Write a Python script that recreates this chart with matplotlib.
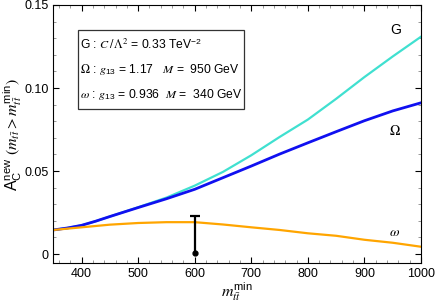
import matplotlib
matplotlib.use("Agg")
import matplotlib.pyplot as plt
from matplotlib.patches import Rectangle
from matplotlib.ticker import MultipleLocator

plt.rcParams['font.family'] = ['Liberation Sans', 'DejaVu Sans']
plt.rcParams['mathtext.fontset'] = 'stix'

# m_tt^min grid (GeV)
m_min = [350, 375, 400, 425, 450, 500, 550, 600, 650, 700, 750, 800, 850, 900, 950, 1000]
# G : C/Lambda^2 = 0.33 TeV^-2
a_G = [0.0145, 0.0157, 0.0173, 0.0198, 0.0226, 0.0282, 0.0340, 0.0412, 0.0495, 0.0595,
       0.0705, 0.0810, 0.0935, 0.1066, 0.1190, 0.1309]
# Omega : g13 = 1.17, M = 950 GeV
a_Omega = [0.0145, 0.0157, 0.0173, 0.0198, 0.0226, 0.0280, 0.0333, 0.0390, 0.0460, 0.0530,
           0.0602, 0.0670, 0.0737, 0.0803, 0.0862, 0.0911]
# omega : g13 = 0.936, M = 340 GeV
a_omega = [0.0145, 0.0153, 0.0161, 0.0169, 0.0177, 0.0187, 0.0192, 0.0192, 0.0178, 0.0161,
           0.0145, 0.0125, 0.0110, 0.0086, 0.0068, 0.0044]

# measurement point with (upper) error bar
meas_x = [600]
meas_y = [0.0008]
meas_err_up = [0.0221]

fig = plt.figure(figsize=(4.36, 3.01), dpi=100)
ax = fig.add_axes([0.1223, 0.1262, 0.8433, 0.8572])

ax.plot(m_min, a_G, color='#40E0D0', lw=1.6)
ax.plot(m_min, a_Omega, color='#1010F0', lw=2.0)
ax.plot(m_min, a_omega, color='#FFA500', lw=1.6)

eb = ax.errorbar(meas_x, meas_y, yerr=[[0], meas_err_up], fmt='o', color='k', ms=3.5,
                 capsize=3.6, elinewidth=1.6, capthick=1.6)
eb[1][0].set_visible(False)

ax.text(955, 0.135, 'G', fontsize=10, ha='center', va='center')
ax.text(954, 0.0743, r'$\Omega$', fontsize=10, ha='center', va='center')
ax.text(954, 0.0134, r'$\omega$', fontsize=10, ha='center', va='center')

# info box
ax.add_patch(Rectangle((393.6, 0.0873), 293.4, 0.0477, fill=False, ec='#333333', lw=0.9))
ax.text(398, 0.1260, r'$\mathregular{G}$ : $C\,/\,\Lambda^2$ = 0.33 TeV$^{\mathregular{-2}}$',
        fontsize=8.7, va='center')
ax.text(398, 0.1110, r'$\Omega$ : $g_{\mathregular{13}}$ = 1.17   $M$ =  950 GeV',
        fontsize=8.7, va='center')
ax.text(398, 0.0958, r'$\omega$ : $g_{\mathregular{13}}$ = 0.936  $M$ =  340 GeV',
        fontsize=8.7, va='center')

ax.set_xlim(350, 1000)
ax.set_ylim(-0.0054, 0.15)
ax.set_xticks([400, 500, 600, 700, 800, 900, 1000])
ax.set_yticks([0, 0.05, 0.10, 0.15])
ax.set_yticklabels(['0', '0.05', '0.10', '0.15'])
ax.xaxis.set_minor_locator(MultipleLocator(20))
ax.yaxis.set_minor_locator(MultipleLocator(0.01))
ax.tick_params(which='both', direction='in', top=True, right=True, labelsize=9)
ax.tick_params(which='major', length=4.5)
ax.tick_params(which='minor', length=2.5, color='#888888')

ax.set_xlabel(r'$m_{t\bar{t}}^{\mathregular{min}}$', fontsize=11.5, labelpad=0)
ax.set_ylabel(r'$\mathregular{A}_{\mathregular{C}}^{\mathregular{new}}\ (m_{t\bar{t}} > m_{t\bar{t}}^{\mathregular{min}})$',
              fontsize=11.5, labelpad=0)

fig.savefig('out.png', dpi=100)
